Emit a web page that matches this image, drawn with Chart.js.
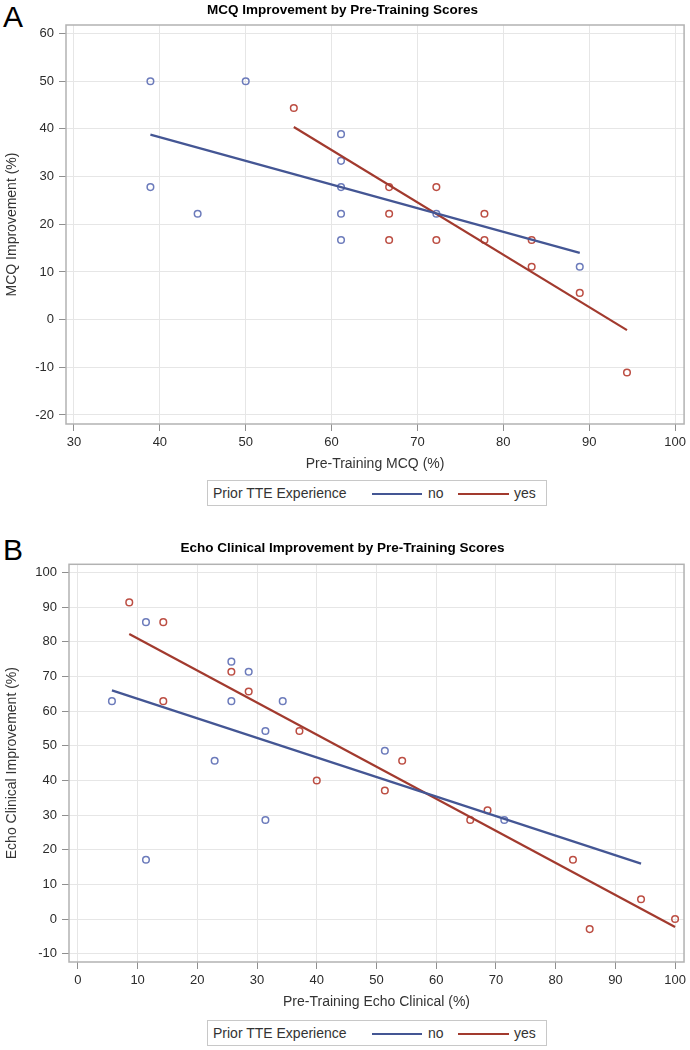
<!DOCTYPE html>
<html>
<head>
<meta charset="utf-8">
<script src="https://cdn.jsdelivr.net/npm/chart.js@4.4.1/dist/chart.umd.min.js"></script>
<style>
  html, body { margin:0; padding:0; background:#fff; width:690px; height:1050px; overflow:hidden; }
  body { position:relative; font-family:'Liberation Sans', Arial, sans-serif; }
  .wrap { position:absolute; left:0; width:690px; }
  .letter { position:absolute; left:3px; font-size:30px; line-height:30px; color:#000; }
  .legend { position:absolute; left:207px; width:340px; height:26px; border:1px solid #c8c8c8; box-sizing:border-box; font-size:14px; color:#333; }
  .legend span { position:absolute; top:4px; line-height:16px; white-space:nowrap; }
  .legend i { position:absolute; top:11.5px; height:2.5px; display:block; }
</style>
</head>
<body>
<div class="letter" style="top:2px;">A</div>
<div class="wrap" style="top:0px;height:480px;"><canvas id="chartA"></canvas></div>
<div class="legend" id="legendA" style="top:480px;"></div>

<div class="letter" style="top:535px;">B</div>
<div class="wrap" style="top:530px;height:488px;"><canvas id="chartB"></canvas></div>
<div class="legend" id="legendB" style="top:1020px;"></div>

<script>
// ---------- Panel A data ----------
const mcqTitle = 'MCQ Improvement by Pre-Training Scores';
const mcqXTitle = 'Pre-Training MCQ (%)';
const mcqYTitle = 'MCQ Improvement (%)';
const mcqXTicks = [30, 40, 50, 60, 70, 80, 90, 100];
const mcqYTicks = [-20, -10, 0, 10, 20, 30, 40, 50, 60];
const mcqNoX  = [38.9, 50.0, 38.9, 44.4, 61.1, 61.1, 61.1, 61.1, 61.1, 72.2, 88.9];
const mcqNoY  = [50.0, 50.0, 27.8, 22.2, 38.9, 33.3, 27.8, 22.2, 16.7, 22.2, 11.1];
const mcqYesX = [55.6, 66.7, 66.7, 66.7, 72.2, 72.2, 77.8, 77.8, 83.3, 83.3, 88.9, 94.4];
const mcqYesY = [44.4, 27.8, 22.2, 16.7, 27.8, 16.7, 22.2, 16.7, 16.7, 11.1, 5.6, -11.1];
const mcqFitNoX  = [38.9, 88.9];
const mcqFitNoY  = [38.8, 14.0];
const mcqFitYesX = [55.6, 94.4];
const mcqFitYesY = [40.4, -2.2];

// ---------- Panel B data ----------
const echoTitle = 'Echo Clinical Improvement by Pre-Training Scores';
const echoXTitle = 'Pre-Training Echo Clinical (%)';
const echoYTitle = 'Echo Clinical Improvement (%)';
const echoXTicks = [0, 10, 20, 30, 40, 50, 60, 70, 80, 90, 100];
const echoYTicks = [-10, 0, 10, 20, 30, 40, 50, 60, 70, 80, 90, 100];
const echoNoX  = [5.7, 11.4, 11.4, 22.9, 25.7, 25.7, 28.6, 31.4, 31.4, 34.3, 51.4, 71.4];
const echoNoY  = [62.9, 85.7, 17.1, 45.7, 74.3, 62.9, 71.4, 54.3, 28.6, 62.9, 48.6, 28.6];
const echoYesX = [8.6, 14.3, 14.3, 25.7, 28.6, 37.1, 40.0, 51.4, 54.3, 65.7, 68.6, 82.9, 85.7, 94.3, 100];
const echoYesY = [91.4, 85.7, 62.9, 71.4, 65.7, 54.3, 40.0, 37.1, 45.7, 28.6, 31.4, 17.1, -2.9, 5.7, 0];
const echoFitNoX  = [5.7, 94.3];
const echoFitNoY  = [66.0, 16.0];
const echoFitYesX = [8.6, 100];
const echoFitYesY = [82.3, -2.3];

const legendTitle = 'Prior TTE Experience';
const groupLabels = ['no', 'yes'];

// ---------- styles ----------
const FONT = "'Liberation Sans', Arial, sans-serif";
const lineColors = ['#445694', '#a23a2e'];
const markerColors = ['#6c7bbb', '#bc4e43'];

const toXY = (xs, ys) => xs.map((x, i) => ({x, y: ys[i]}));

const framePlugin = {
  id: 'frame',
  beforeDatasetsDraw(chart) {
    const {ctx, chartArea: a} = chart;
    ctx.save();
    ctx.strokeStyle = '#b2b2b2';
    ctx.lineWidth = 1.5;
    ctx.strokeRect(a.left, a.top, a.right - a.left, a.bottom - a.top);
    ctx.restore();
  }
};

function makeChart(id, cfg) {
  const ds = [
    { type:'line', label: groupLabels[0] + ' fit', data: toXY(cfg.fitNoX, cfg.fitNoY), borderColor: lineColors[0], borderWidth: 2.2, pointRadius: 0, showLine: true, fill:false, order: 1 },
    { type:'line', label: groupLabels[1] + ' fit', data: toXY(cfg.fitYesX, cfg.fitYesY), borderColor: lineColors[1], borderWidth: 2.2, pointRadius: 0, showLine: true, fill:false, order: 1 },
    { type:'scatter', label: groupLabels[0], data: toXY(cfg.noX, cfg.noY), borderColor: markerColors[0], backgroundColor: 'rgba(0,0,0,0)', pointRadius: 3.3, pointBorderWidth: 1.5, order: 2 },
    { type:'scatter', label: groupLabels[1], data: toXY(cfg.yesX, cfg.yesY), borderColor: markerColors[1], backgroundColor: 'rgba(0,0,0,0)', pointRadius: 3.3, pointBorderWidth: 1.5, order: 2 },
  ];
  return new Chart(document.getElementById(id), {
    type: 'scatter',
    data: { datasets: ds },
    plugins: [framePlugin],
    options: {
      responsive: true,
      maintainAspectRatio: false,
      animation: false,
      layout: { padding: { left: 0, right: 5, top: 0, bottom: 0 } },
      plugins: {
        legend: { display: false },
        tooltip: { enabled: false },
        title: {
          display: true, text: cfg.title, color: '#000',
          font: { family: FONT, size: 13.5, weight: 'bold' },
          padding: cfg.titlePad
        }
      },
      scales: {
        x: {
          type: 'linear', min: cfg.xMin, max: cfg.xMax,
          afterBuildTicks: s => { s.ticks = cfg.xTicks.map(v => ({value: v})); },
          afterFit: s => { s.height = 56; },
          ticks: { color: '#2b2b2b', font: { family: FONT, size: 13 }, padding: 4, maxRotation: 0, autoSkip: false },
          grid: { color: '#e6e6e6', lineWidth: 1, tickColor: '#8f8f8f', tickLength: 7, tickWidth: 1 },
          border: { display: false },
          title: { display: true, text: cfg.xTitle, color: '#333', font: { family: FONT, size: 14 }, padding: { top: 0, bottom: 7.6 } }
        },
        y: {
          type: 'linear', min: cfg.yMin, max: cfg.yMax,
          afterBuildTicks: s => { s.ticks = cfg.yTicks.map(v => ({value: v})); },
          afterFit: s => { s.width = cfg.yWidth; },
          ticks: { color: '#2b2b2b', font: { family: FONT, size: 13 }, padding: 5, autoSkip: false },
          grid: { color: '#e6e6e6', lineWidth: 1, tickColor: '#8f8f8f', tickLength: 7, tickWidth: 1 },
          border: { display: false },
          title: { display: true, text: cfg.yTitle, color: '#333', font: { family: FONT, size: 14 }, padding: { top: 3.6, bottom: 0 } }
        }
      }
    }
  });
}

makeChart('chartA', {
  title: mcqTitle, xTitle: mcqXTitle, yTitle: mcqYTitle,
  xTicks: mcqXTicks, yTicks: mcqYTicks,
  xMin: 29.07, xMax: 101.05, yMin: -21.9, yMax: 61.8,
  yWidth: 66, titlePad: { top: 2, bottom: 6.8 },
  noX: mcqNoX, noY: mcqNoY, yesX: mcqYesX, yesY: mcqYesY,
  fitNoX: mcqFitNoX, fitNoY: mcqFitNoY, fitYesX: mcqFitYesX, fitYesY: mcqFitYesY
});

makeChart('chartB', {
  title: echoTitle, xTitle: echoXTitle, yTitle: echoYTitle,
  xTicks: echoXTicks, yTicks: echoYTicks,
  xMin: -1.49, xMax: 101.5, yMin: -12.4, yMax: 102.4,
  yWidth: 69, titlePad: { top: 9.7, bottom: 8.4 },
  noX: echoNoX, noY: echoNoY, yesX: echoYesX, yesY: echoYesY,
  fitNoX: echoFitNoX, fitNoY: echoFitNoY, fitYesX: echoFitYesX, fitYesY: echoFitYesY
});

function buildLegend(id) {
  const el = document.getElementById(id);
  const parts = [
    `<span style="left:5px;">${legendTitle}</span>`,
    `<i style="left:164px;width:50px;background:${lineColors[0]};"></i>`,
    `<span style="left:220px;">${groupLabels[0]}</span>`,
    `<i style="left:250px;width:51px;background:${lineColors[1]};"></i>`,
    `<span style="left:306px;">${groupLabels[1]}</span>`
  ];
  el.innerHTML = parts.join('');
}
buildLegend('legendA');
buildLegend('legendB');
</script>
</body>
</html>
